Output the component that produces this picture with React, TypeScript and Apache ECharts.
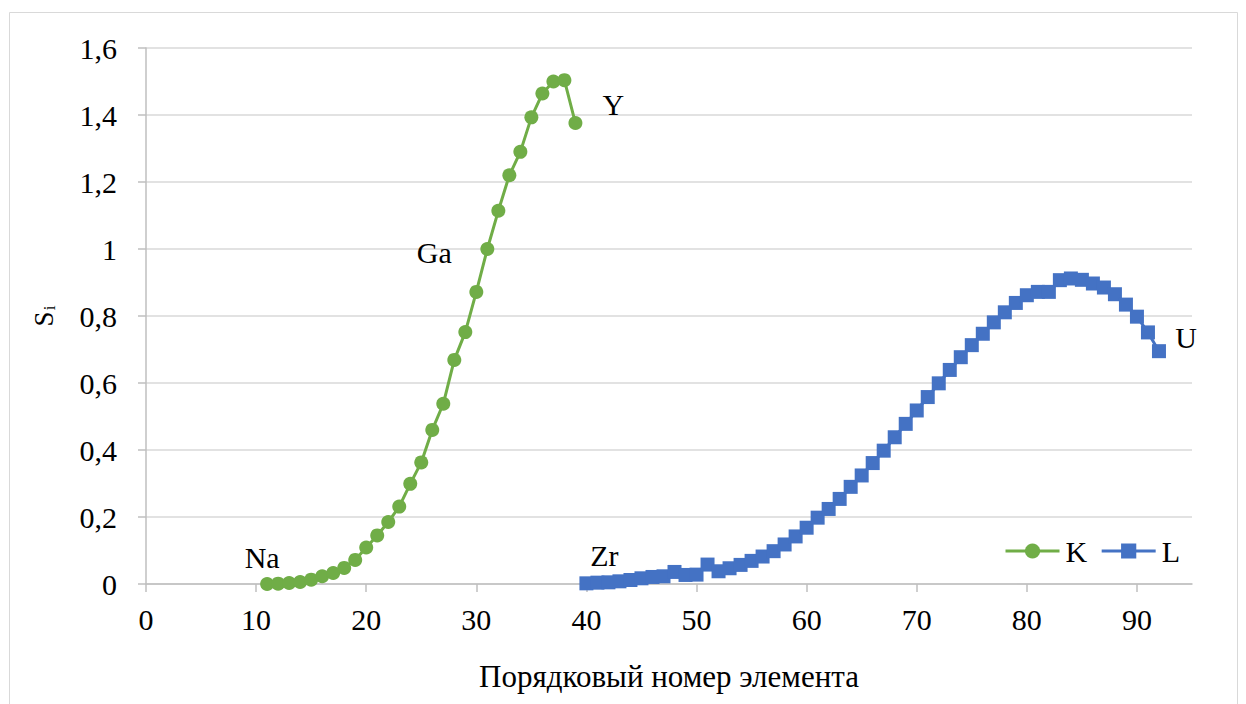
import React, { useEffect, useRef } from "react";
import * as echarts from "echarts";

// K-series: atomic numbers and S_i values
const kNumbers = [11, 12, 13, 14, 15, 16, 17, 18, 19, 20, 21, 22, 23, 24, 25, 26, 27, 28, 29, 30, 31, 32, 33, 34, 35, 36, 37, 38, 39];
const kValues = [0, 0.001, 0.003, 0.006, 0.013, 0.023, 0.033, 0.048, 0.072, 0.109, 0.145, 0.185, 0.231, 0.299, 0.363, 0.46, 0.538, 0.669, 0.752, 0.872, 1.0, 1.114, 1.22, 1.29, 1.393, 1.464, 1.5, 1.504, 1.376];

// L-series
const lNumbers = [40, 41, 42, 43, 44, 45, 46, 47, 48, 49, 50, 51, 52, 53, 54, 55, 56, 57, 58, 59, 60, 61, 62, 63, 64, 65, 66, 67, 68, 69, 70, 71, 72, 73, 74, 75, 76, 77, 78, 79, 80, 81, 82, 83, 84, 85, 86, 87, 88, 89, 90, 91, 92];
const lValues = [0.002, 0.004, 0.005, 0.008, 0.012, 0.017, 0.021, 0.023, 0.036, 0.027, 0.028, 0.058, 0.038, 0.047, 0.057, 0.069, 0.082, 0.098, 0.118, 0.142, 0.168, 0.198, 0.224, 0.254, 0.29, 0.324, 0.361, 0.398, 0.438, 0.478, 0.518, 0.558, 0.599, 0.639, 0.677, 0.713, 0.747, 0.781, 0.811, 0.839, 0.862, 0.872, 0.872, 0.907, 0.912, 0.908, 0.897, 0.885, 0.865, 0.834, 0.798, 0.751, 0.695];

// Element annotations
const kElementLabels = [
  { z: 11, name: "Na" },
  { z: 31, name: "Ga" },
  { z: 39, name: "Y" },
];
const lElementLabels = [
  { z: 40, name: "Zr" },
  { z: 92, name: "U" },
];

const seriesNames = ["K", "L"];
const xAxisTitle = "Порядковый номер элемента";

const FONT = '"Liberation Serif", "Times New Roman", serif';
const GREEN = "#70AD47";
const BLUE = "#4472C4";

// label shift (pixels) from the marker centre to the label centre
const labelShift: Record<string, [number, number]> = {
  Na: [-5, -27],
  Ga: [-53, 3],
  Y: [38, -19],
  Zr: [18, -28],
  U: [27, -14],
};

function buildData(xs: number[], ys: number[], labels: { z: number; name: string }[]) {
  return xs.map((x, i) => {
    const lab = labels.find((l) => l.z === x);
    if (!lab) return [x, ys[i]];
    return {
      value: [x, ys[i]],
      label: {
        show: true,
        formatter: lab.name,
        position: "inside",
        align: "center",
        verticalAlign: "middle",
        color: "#000",
        fontSize: 30,
        fontFamily: FONT,
      },
    };
  });
}

const layoutFn = (params: any) => {
  const d = labelShift[params.text];
  if (!d) return {};
  return { dx: d[0], dy: d[1], hideOverlap: false };
};

export default function App() {
  const ref = useRef<HTMLDivElement>(null);
  useEffect(() => {
    if (!ref.current) return;
    const chart = echarts.init(ref.current, undefined, { renderer: "svg" });
    chart.setOption({
      animation: false,
      backgroundColor: "#fff",
      textStyle: { fontFamily: FONT },
      grid: { left: 146, right: 54, top: 48, bottom: 120, containLabel: false },
      legend: {
        right: 66,
        top: 536,
        padding: 0,
        itemWidth: 54,
        itemHeight: 19,
        itemGap: 13,
        lineStyle: { width: 3 },
        textStyle: { fontSize: 30, color: "#000", fontFamily: FONT, padding: [0, 0, 0, 1] },
        data: seriesNames,
      },
      graphic: [
        {
          type: "rect",
          shape: { x: 9.5, y: 12.5, width: 1228, height: 700 },
          style: { fill: "none", stroke: "#D9D9D9", lineWidth: 1 },
          silent: true,
        },
      ],
      xAxis: {
        type: "value",
        min: 0,
        max: 95,
        interval: 10,
        name: xAxisTitle,
        nameLocation: "middle",
        nameGap: 77,
        nameTextStyle: { fontSize: 31, color: "#000", fontFamily: FONT },
        axisLine: { show: true, lineStyle: { color: "#BFBFBF", width: 1.5 } },
        axisTick: { show: true, length: 8, lineStyle: { color: "#BFBFBF", width: 1.5 } },
        axisLabel: {
          fontSize: 30,
          color: "#000",
          fontFamily: FONT,
          margin: 20,
          showMaxLabel: false,
          formatter: (v: number) => (v > 90 ? "" : String(v)),
        },
        splitLine: { show: false },
      },
      yAxis: {
        type: "value",
        min: 0,
        max: 1.6,
        interval: 0.2,
        name: "{s|S}{i|i}",
        nameLocation: "middle",
        nameGap: 88,
        nameRotate: 90,
        nameTextStyle: {
          color: "#000",
          fontFamily: FONT,
          rich: {
            s: { fontSize: 27, color: "#000", fontFamily: FONT },
            i: { fontSize: 17, color: "#000", fontFamily: FONT, padding: [12, 0, 0, 1] },
          },
        },
        axisLine: { show: true, lineStyle: { color: "#BFBFBF", width: 1.5 } },
        axisTick: { show: true, length: 8, lineStyle: { color: "#BFBFBF", width: 1.5 } },
        axisLabel: {
          fontSize: 30,
          color: "#000",
          fontFamily: FONT,
          margin: 29,
          formatter: (v: number) => {
            const r = Math.round(v * 10) / 10;
            return String(r).replace(".", ",");
          },
        },
        splitLine: { show: true, lineStyle: { color: "#D9D9D9", width: 1.5 } },
      },
      series: [
        {
          name: seriesNames[0],
          type: "line",
          data: buildData(kNumbers, kValues, kElementLabels),
          symbol: "circle",
          symbolSize: 14,
          lineStyle: { color: GREEN, width: 3 },
          itemStyle: { color: GREEN },
          labelLayout: layoutFn,
          z: 3,
        },
        {
          name: seriesNames[1],
          type: "line",
          data: buildData(lNumbers, lValues, lElementLabels),
          symbol: "rect",
          symbolSize: 14,
          lineStyle: { color: BLUE, width: 3 },
          itemStyle: { color: BLUE },
          labelLayout: layoutFn,
          z: 3,
        },
      ],
    });
    return () => chart.dispose();
  }, []);
  return (
    <div
      ref={ref}
      style={{ position: "absolute", left: 0, top: 0, width: 1246, height: 704 }}
    />
  );
}
